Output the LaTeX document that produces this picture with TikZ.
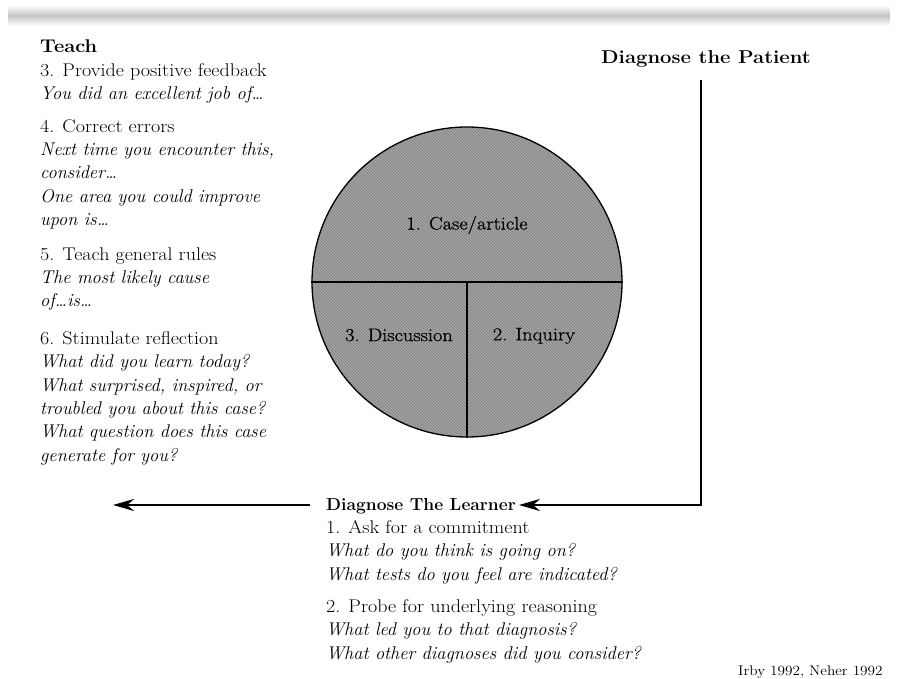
\documentclass[tikz,border=0pt]{standalone}
\usepackage{fontspec}
\newfontfamily\upf{Latin Modern Roman}[FakeStretch=1.09]
\newfontfamily\segf{Latin Modern Roman}[FakeStretch=1.12,FakeBold=0.8]
\usetikzlibrary{patterns,arrows.meta}
\begin{document}
\begin{tikzpicture}[x=1pt,y=-1pt,
  txt/.style={anchor=north west,inner sep=0pt,align=left,font=\fontsize{18.4}{23.4}\selectfont},
  seg/.style={font=\segf\fontsize{18.2}{20}\selectfont,inner sep=1pt},
  arr/.style={line width=2.4pt,-{Stealth[length=21pt,width=12pt]}}
]
\useasboundingbox (0,0) rectangle (899,679);
% scan band at top
\shade[top color=white,bottom color=white,middle color=gray!45] (8,5) rectangle (890,26);

% left column
\node[txt] (teach) at (40,40) {{\upf\bfseries Teach}\\
{\upf 3. Provide positive feedback}\\
\itshape You did an excellent job of\ldots\\[9pt]
{\upf 4. Correct errors}\\
\itshape Next time you encounter this,\\
\itshape consider\ldots\\
\itshape One area you could improve\\
\itshape upon is\ldots\\[11pt]
{\upf 5. Teach general rules}\\
\itshape The most likely cause\\
\itshape of\ldots is\ldots\\[14pt]
{\upf 6. Stimulate reflection}\\
\itshape What did you learn today?\\
\itshape What surprised, inspired, or\\
\itshape troubled you about this case?\\
\itshape What question does this case\\
\itshape generate for you?};

% circle
\node[circle,draw,line width=1.3pt,minimum size=310pt,inner sep=0pt,
  preaction={fill=black!36},pattern=north west lines,pattern color=black!50] (disc) at (467,282) {};
\draw[line width=1.3pt] (disc.west) -- (disc.east);
\draw[line width=1.3pt] (disc.center) -- (disc.south);
\node[seg] (case) at (467,225) {1. Case/article};
\node[seg] (disc3) at (399,335) {3. Discussion};
\node[seg] (inq) at (534,336) {2. Inquiry};

% diagnose the patient
\node[anchor=base,inner sep=0pt,font=\upf\bfseries\fontsize{18.6}{20}\selectfont] (patient) at (706,64) {Diagnose the Patient};
\coordinate (ptop) at (701,80);

% learner
\node[anchor=base west,inner sep=0pt,font=\bfseries\fontsize{17.4}{20}\selectfont] (learner) at (326,510) {Diagnose The Learner};
\coordinate (lmid) at ([xshift=3pt]learner.east |- 0,505);
\node[txt] (lbody) at (326,520) {{\upf 1. Ask for a commitment}\\
\itshape What do you think is going on?\\
\itshape What tests do you feel are indicated?\\[9pt]
{\upf 2. Probe for underlying reasoning}\\
\itshape What led you to that diagnosis?\\
\itshape What other diagnoses did you consider?};

\draw[arr] (ptop) |- (lmid);
\coordinate (lend) at (113,505);
\coordinate (ltail) at ([xshift=-16pt]learner.west |- 0,505);
\draw[arr] (ltail) -- (lend);

\node[anchor=base west,inner sep=0pt,font=\upf\fontsize{14}{16}\selectfont] (cite) at (738,675) {Irby 1992, Neher 1992};
\end{tikzpicture}
\end{document}
